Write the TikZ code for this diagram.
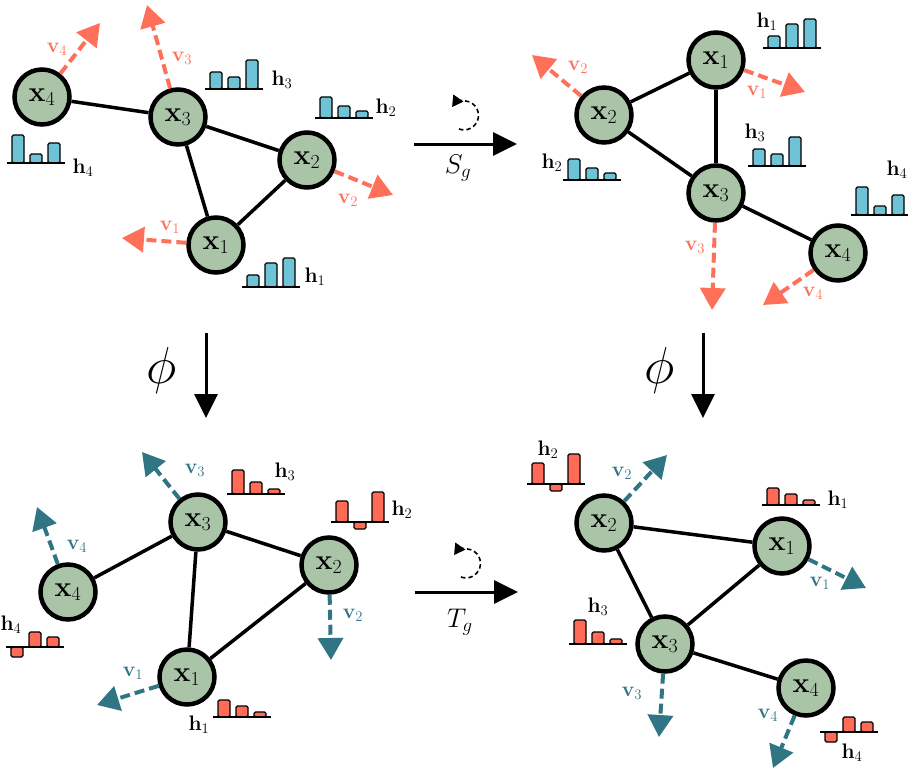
\RequirePackage{fix-cm}
\documentclass[tikz,border=0pt]{standalone}
\usetikzlibrary{arrows.meta}
\definecolor{nodefill}{RGB}{170,196,168}
\definecolor{vorange}{RGB}{255,112,90}
\definecolor{vteal}{RGB}{47,117,131}
\definecolor{barcyan}{RGB}{110,195,214}
\definecolor{barred}{RGB}{255,107,87}
\tikzset{
  gnode/.style={circle, draw=black, line width=4.5pt, fill=nodefill, minimum size=55pt, inner sep=0pt, font=\fontsize{28.5}{31}\selectfont},
  edge/.style={line width=3.5pt},
  vec/.style={line width=4pt, dash pattern=on 10pt off 5pt, -{Triangle[length=22pt,width=25pt]}},
  ovec/.style={vec, draw=vorange},
  tvec/.style={vec, draw=vteal},
  lab/.style={font=\fontsize{21}{24}\selectfont, inner sep=0pt},
  olab/.style={lab, text=vorange},
  tlab/.style={lab, text=vteal},
  barbox/.style={draw=black, line width=1.3pt, rounded corners=1.5pt},
  mainarrow/.style={line width=3pt, -{Triangle[length=24pt,width=23pt]}},
  rotarrow/.style={line width=1.6pt, dash pattern=on 4.5pt off 3pt, -{Triangle[length=11pt,width=12pt]}},
  biglab/.style={font=\fontsize{27}{30}\selectfont, inner sep=0pt},
  philab/.style={font=\fontsize{52}{56}\selectfont, inner sep=0pt}
}
\newcommand\hchart[6]{%
  \foreach \hh [count=\ii from 0] in {#3,#4,#5}{%
    \draw[barbox, fill=#6] ({#1+5+18*\ii},#2) rectangle ({#1+17+18*\ii},{#2-\hh});
  }%
  \draw[line width=1.8pt] (#1,#2) -- ({#1+58},#2);
}
\begin{document}
\begin{tikzpicture}[x=1pt,y=-1pt]
\useasboundingbox (0,0) rectangle (908,772);

% ===== Top-left =====
\node[gnode] (tl4) at (42,97) {$\mathbf{x}_4$};
\node[gnode] (tl3) at (178,117) {$\mathbf{x}_3$};
\node[gnode] (tl2) at (307,160) {$\mathbf{x}_2$};
\node[gnode] (tl1) at (216,245) {$\mathbf{x}_1$};
\draw[edge] (tl4) -- (tl3);
\draw[edge] (tl3) -- (tl2);
\draw[edge] (tl3) -- (tl1);
\draw[edge] (tl1) -- (tl2);
\coordinate (tlv4) at (100,23);
\coordinate (tlv3) at (147,5);
\coordinate (tlv2) at (393,195);
\coordinate (tlv1) at (122,238);
\draw[ovec] (tl4) -- (tlv4);
\draw[ovec] (tl3) -- (tlv3);
\draw[ovec] (tl2) -- (tlv2);
\draw[ovec] (tl1) -- (tlv1);
\node[olab] (tllv4) at (57,49) {$\mathbf{v}_4$};
\node[olab] (tllv3) at (182,58) {$\mathbf{v}_3$};
\node[olab] (tllv2) at (348,200) {$\mathbf{v}_2$};
\node[olab] (tllv1) at (170,227) {$\mathbf{v}_1$};
\hchart{7}{163}{28}{9}{20}{barcyan}
\hchart{205}{89}{17}{12}{29}{barcyan}
\hchart{315}{118}{21}{12}{7}{barcyan}
\hchart{242}{287}{12}{24}{29}{barcyan}
\node[lab] (tlh4) at (83,168) {$\mathbf{h}_4$};
\node[lab] (tlh3) at (282,80) {$\mathbf{h}_3$};
\node[lab] (tlh2) at (386,108) {$\mathbf{h}_2$};
\node[lab] (tlh1) at (315,277) {$\mathbf{h}_1$};

% ===== Top-right =====
\node[gnode] (tr1) at (716,60) {$\mathbf{x}_1$};
\node[gnode] (tr2) at (604,115) {$\mathbf{x}_2$};
\node[gnode] (tr3) at (716,193) {$\mathbf{x}_3$};
\node[gnode] (tr4) at (838,253) {$\mathbf{x}_4$};
\draw[edge] (tr2) -- (tr1);
\draw[edge] (tr1) -- (tr3);
\draw[edge] (tr2) -- (tr3);
\draw[edge] (tr3) -- (tr4);
\coordinate (trv2) at (532,55);
\coordinate (trv1) at (805,92);
\coordinate (trv3) at (712,310);
\coordinate (trv4) at (763,305);
\draw[ovec] (tr2) -- (trv2);
\draw[ovec] (tr1) -- (trv1);
\draw[ovec] (tr3) -- (trv3);
\draw[ovec] (tr4) -- (trv4);
\node[olab] (trlv2) at (578,67) {$\mathbf{v}_2$};
\node[olab] (trlv1) at (757,92) {$\mathbf{v}_1$};
\node[olab] (trlv3) at (695,247) {$\mathbf{v}_3$};
\node[olab] (trlv4) at (813,293) {$\mathbf{v}_4$};
\hchart{763}{48}{12}{24}{29}{barcyan}
\hchart{748}{166}{17}{12}{29}{barcyan}
\hchart{563}{180}{21}{12}{7}{barcyan}
\hchart{851}{215}{28}{9}{20}{barcyan}
\node[lab] (trh1) at (767,22) {$\mathbf{h}_1$};
\node[lab] (trh3) at (755,133) {$\mathbf{h}_3$};
\node[lab] (trh2) at (552,163) {$\mathbf{h}_2$};
\node[lab] (trh4) at (897,170) {$\mathbf{h}_4$};

% ===== Bottom-left =====
\node[gnode] (bl3) at (198,522) {$\mathbf{x}_3$};
\node[gnode] (bl2) at (329,565) {$\mathbf{x}_2$};
\node[gnode] (bl4) at (68,592) {$\mathbf{x}_4$};
\node[gnode] (bl1) at (187,677) {$\mathbf{x}_1$};
\draw[edge] (bl4) -- (bl3);
\draw[edge] (bl3) -- (bl2);
\draw[edge] (bl3) -- (bl1);
\draw[edge] (bl1) -- (bl2);
\coordinate (blv3) at (142,452);
\coordinate (blv4) at (37,507);
\coordinate (blv2) at (331,660);
\coordinate (blv1) at (97,705);
\draw[tvec] (bl3) -- (blv3);
\draw[tvec] (bl4) -- (blv4);
\draw[tvec] (bl2) -- (blv2);
\draw[tvec] (bl1) -- (blv1);
\node[tlab] (bllv3) at (195,470) {$\mathbf{v}_3$};
\node[tlab] (bllv4) at (77,546) {$\mathbf{v}_4$};
\node[tlab] (bllv2) at (353,615) {$\mathbf{v}_2$};
\node[tlab] (bllv1) at (133,673) {$\mathbf{v}_1$};
\hchart{227}{494}{24}{12}{5}{barred}
\hchart{331}{522}{21}{-7}{30}{barred}
\hchart{6}{647}{-10}{15}{10}{barred}
\hchart{213}{717}{17}{11}{5}{barred}
\node[lab] (blh3) at (285,472) {$\mathbf{h}_3$};
\node[lab] (blh2) at (402,510) {$\mathbf{h}_2$};
\node[lab] (blh4) at (11,625) {$\mathbf{h}_4$};
\node[lab] (blh1) at (199,725) {$\mathbf{h}_1$};

% ===== Bottom-right =====
\node[gnode] (br2) at (604,523) {$\mathbf{x}_2$};
\node[gnode] (br1) at (782,546) {$\mathbf{x}_1$};
\node[gnode] (br3) at (665,644) {$\mathbf{x}_3$};
\node[gnode] (br4) at (806,688) {$\mathbf{x}_4$};
\draw[edge] (br2) -- (br1);
\draw[edge] (br2) -- (br3);
\draw[edge] (br3) -- (br1);
\draw[edge] (br3) -- (br4);
\coordinate (brv2) at (667,455);
\coordinate (brv1) at (866,588);
\coordinate (brv3) at (659,737);
\coordinate (brv4) at (773,768);
\draw[tvec] (br2) -- (brv2);
\draw[tvec] (br1) -- (brv1);
\draw[tvec] (br3) -- (brv3);
\draw[tvec] (br4) -- (brv4);
\node[tlab] (brlv2) at (622,473) {$\mathbf{v}_2$};
\node[tlab] (brlv1) at (820,583) {$\mathbf{v}_1$};
\node[tlab] (brlv3) at (632,693) {$\mathbf{v}_3$};
\node[tlab] (brlv4) at (768,715) {$\mathbf{v}_4$};
\hchart{527}{484}{21}{-7}{30}{barred}
\hchart{762}{505}{17}{11}{5}{barred}
\hchart{569}{644}{24}{12}{5}{barred}
\hchart{820}{732}{-10}{15}{10}{barred}
\node[lab] (brh2) at (548,450) {$\mathbf{h}_2$};
\node[lab] (brh1) at (838,500) {$\mathbf{h}_1$};
\node[lab] (brh3) at (598,607) {$\mathbf{h}_3$};
\node[lab] (brh4) at (852,753) {$\mathbf{h}_4$};

% ===== Maps =====
\coordinate (sa) at (414,144);
\coordinate (sb) at (517,144);
\draw[mainarrow] (sa) -- (sb);
\node[biglab] (sg) at (458,168) {$S_g$};
\draw[rotarrow] (459,129) arc[start angle=-250, end angle=-505, radius=14.5];

\coordinate (ta) at (415,592);
\coordinate (tb) at (518,592);
\draw[mainarrow] (ta) -- (tb);
\node[biglab] (tg) at (460,622) {$T_g$};
\draw[rotarrow] (461,577) arc[start angle=-250, end angle=-505, radius=14.5];

\coordinate (pa) at (206,333);
\coordinate (pb) at (206,418);
\draw[mainarrow] (pa) -- (pb);
\node[philab] (phi1) at (162,370) {$\phi$};

\coordinate (qa) at (703,333);
\coordinate (qb) at (703,418);
\draw[mainarrow] (qa) -- (qb);
\node[philab] (phi2) at (660,370) {$\phi$};
\end{tikzpicture}
\end{document}
